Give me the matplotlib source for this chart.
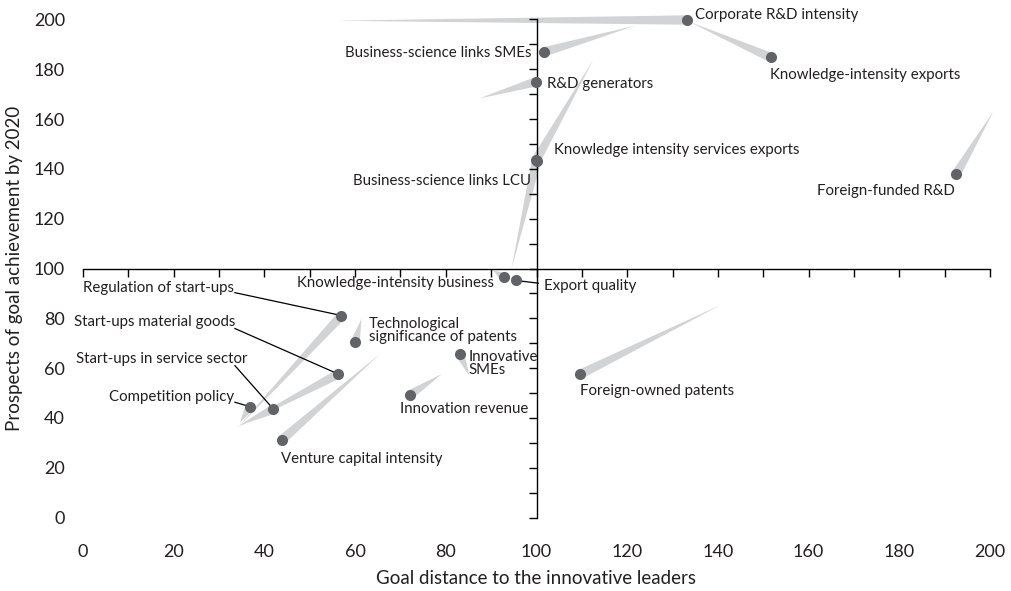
import matplotlib
matplotlib.use("Agg")
import matplotlib.pyplot as plt
import numpy as np
from matplotlib.patches import Polygon

plt.rcParams['font.family'] = ['Lato', 'DejaVu Sans']

# ---------------- data ----------------
indicators = [
    "Corporate R&D intensity",
    "Knowledge-intensity exports",
    "Business-science links SMEs",
    "R&D generators",
    "Knowledge intensity services exports",
    "Business-science links LCU",
    "Foreign-funded R&D",
    "Knowledge-intensity business",
    "Export quality",
    "Regulation of start-ups",
    "Start-ups material goods",
    "Start-ups in service sector",
    "Competition policy",
    "Technological\nsignificance of patents",
    "Innovative\nSMEs",
    "Innovation revenue",
    "Venture capital intensity",
    "Foreign-owned patents",
]
# current position (goal distance, prospects)
x_now = [133.2, 151.6, 101.7, 99.9, 99.9, 100.0, 192.6, 92.8, 95.5,
         57.0, 56.3, 42.0, 36.8, 60.0, 83.1, 72.1, 43.8, 109.6]
y_now = [199.8, 184.8, 187.0, 175.0, 143.5, 143.3, 138.1, 96.5, 95.2,
         81.1, 57.6, 43.5, 44.5, 70.3, 65.7, 49.3, 31.1, 57.5]
# earlier position (tail tip)
x_prev = [55.6, 133.8, 121.7, 87.4, 112.5, 94.5, 200.7, 90.5, 97.2,
          34.3, 34.0, 34.5, 34.6, 61.4, 85.2, 79.1, 65.5, 140.7]
y_prev = [199.5, 199.0, 197.5, 168.3, 183.7, 99.9, 162.9, 99.2, 94.4,
          36.5, 36.2, 37.0, 38.1, 79.8, 56.9, 57.6, 65.7, 85.4]

x_ticks = list(range(0, 201, 20))
y_ticks = list(range(0, 201, 20))

# ---------------- layout ----------------
# label anchor (data coords), horizontal alignment
label_layout = [
    (135.0, 201.8, 'left'),
    (151.5, 177.7, 'left'),
    (99.0, 186.5, 'right'),
    (102.3, 174.0, 'left'),
    (103.9, 147.5, 'left'),
    (98.8, 135.0, 'right'),
    (192.3, 131.1, 'right'),
    (90.7, 94.1, 'right'),
    (101.7, 92.8, 'left'),
    (0.0, 92.2, 'left'),
    (33.5, 78.4, 'right'),
    (36.2, 63.7, 'right'),
    (33.4, 48.2, 'right'),
    (63.1, 75.1, 'left'),
    (85.0, 61.8, 'left'),
    (69.9, 43.5, 'left'),
    (43.7, 23.4, 'left'),
    (109.6, 50.7, 'left'),
]
# leader line start points for some labels (index -> data coords)
leader_start = {
    8: (100.4, 94.1),
    9: (33.5, 90.3),
    10: (33.5, 75.9),
    11: (33.5, 61.0),
    12: (33.5, 46.3),
}

DOT = '#626367'
TAIL = '#d2d3d5'
TXT = '#231f20'

fig = plt.figure(figsize=(10.11, 5.91), dpi=100)
rect = [83 / 1011, (591 - 517.5) / 591, 907 / 1011, 498 / 591]

# axes for outer tick labels
ax_lab = fig.add_axes(rect, frameon=False)
ax_lab.set_xlim(0, 200)
ax_lab.set_ylim(0, 200)
ax_lab.set_xticks(x_ticks)
ax_lab.set_yticks(y_ticks)
ax_lab.tick_params(length=0, labelsize=13, labelcolor=TXT)
ax_lab.tick_params(axis='x', pad=19)
ax_lab.tick_params(axis='y', pad=13)
ax_lab.set_xlabel("Goal distance to the innovative leaders", fontsize=13.5, color=TXT)
ax_lab.set_ylabel("Prospects of goal achievement by 2020", fontsize=13.5, color=TXT)
ax_lab.xaxis.set_label_coords(0.5, -0.122)
ax_lab.xaxis.label.set_va('center')
ax_lab.yaxis.set_label_coords(-0.076, 0.5)
ax_lab.yaxis.label.set_va('center')

# main axes with crossing spines
ax = fig.add_axes(rect)
ax.patch.set_visible(False)
ax.set_xlim(0, 200)
ax.set_ylim(0, 200)
for s in ['top', 'right']:
    ax.spines[s].set_visible(False)
ax.spines['left'].set_position(('data', 100))
ax.spines['bottom'].set_position(('data', 100))
for s in ['left', 'bottom']:
    ax.spines[s].set_linewidth(1.0)
    ax.spines[s].set_color('black')
ax.set_xticks(np.arange(0, 201, 10))
ax.set_yticks(np.arange(0, 201, 10))
ax.tick_params(direction='out', length=6, width=1.0, color='black',
               labelbottom=False, labelleft=False)


def draw_tail(p0, p1, hw=4.7):
    T = ax.transData
    a = T.transform(p0)
    b = T.transform(p1)
    d = b - a
    L = np.hypot(d[0], d[1])
    if L == 0:
        return
    n = np.array([-d[1], d[0]]) / L
    pts = T.inverted().transform([a, b + n * hw, b - n * hw])
    ax.add_patch(Polygon(pts, closed=True, fc=TAIL, ec='none', zorder=1,
                         clip_on=False))


for i in range(len(indicators)):
    draw_tail((x_prev[i], y_prev[i]), (x_now[i], y_now[i]))

ax.scatter(x_now, y_now, s=64, color=DOT, zorder=4, clip_on=False,
           linewidths=0)

for i, name in enumerate(indicators):
    lx, ly, ha = label_layout[i]
    ax.text(lx, ly, name, ha=ha, va='center', fontsize=10.8, color=TXT,
            linespacing=0.95, zorder=5, clip_on=False)
    if i in leader_start:
        sx, sy = leader_start[i]
        ax.plot([sx, x_now[i]], [sy, y_now[i]], color='black', lw=0.9,
                zorder=3.5, clip_on=False)

fig.savefig("out.png", dpi=100)
